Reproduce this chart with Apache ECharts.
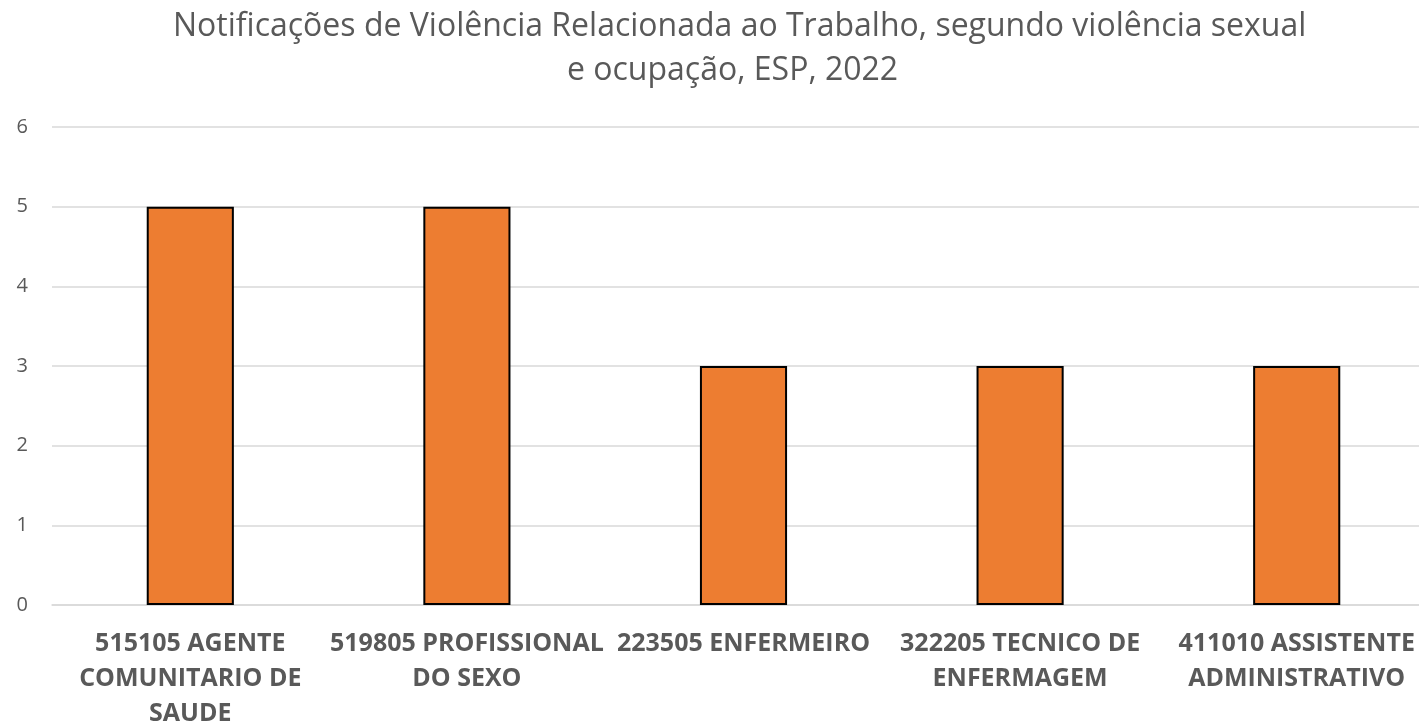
<!DOCTYPE html>
<html>
<head>
<meta charset="utf-8">
<script src="https://cdn.jsdelivr.net/npm/echarts@6/dist/echarts.min.js"></script>
<style>
  html, body { margin: 0; padding: 0; background: #fff; }
  #chart { width: 1419px; height: 726px; }
</style>
</head>
<body>
<div id="chart"></div>
<script>
const titleLines = [
  'Notificações de Violência Relacionada ao Trabalho, segundo violência sexual',
  'e ocupação, ESP, 2022'
];
const categories = [
  '515105 AGENTE\nCOMUNITARIO DE\nSAUDE',
  '519805 PROFISSIONAL\nDO SEXO',
  '223505 ENFERMEIRO',
  '322205 TECNICO DE\nENFERMAGEM',
  '411010 ASSISTENTE\nADMINISTRATIVO'
];
const values = [5, 5, 3, 3, 3];
const yTicks = [0, 1, 2, 3, 4, 5, 6];

const chart = echarts.init(document.getElementById('chart'));
const fontFamily = '"Open Sans", "Noto Sans", sans-serif';

const titleStyle = {
  fontFamily,
  fontSize: 32,
  fontWeight: 'normal',
  color: '#595959',
  lineHeight: 44
};

chart.setOption({
  animation: false,
  title: [
    { text: titleLines[0], left: 173, top: 5, padding: 0, textStyle: titleStyle },
    { text: titleLines[1], left: 567, top: 49, padding: 0, textStyle: titleStyle }
  ],
  grid: {
    left: 52,
    top: 127,
    bottom: 121,
    right: -16,
    outerBoundsMode: 'none'
  },
  xAxis: {
    type: 'category',
    data: categories,
    axisTick: { show: false },
    axisLine: { lineStyle: { color: '#d9d9d9', width: 1.5 } },
    axisLabel: {
      interval: 0,
      margin: 21,
      fontFamily,
      fontSize: 25,
      fontWeight: 'bold',
      color: '#595959',
      lineHeight: 35
    }
  },
  yAxis: {
    type: 'value',
    min: yTicks[0],
    max: yTicks[yTicks.length - 1],
    interval: 1,
    axisLine: { show: false },
    axisTick: { show: false },
    splitLine: { lineStyle: { color: '#d9d9d9', width: 1.5 } },
    axisLabel: {
      margin: 24,
      fontFamily,
      fontSize: 20,
      color: '#595959'
    }
  },
  series: [{
    type: 'bar',
    data: values,
    barWidth: '31.5%',
    itemStyle: {
      color: '#ED7D31',
      borderColor: '#000',
      borderWidth: 2
    }
  }]
});
</script>
</body>
</html>
